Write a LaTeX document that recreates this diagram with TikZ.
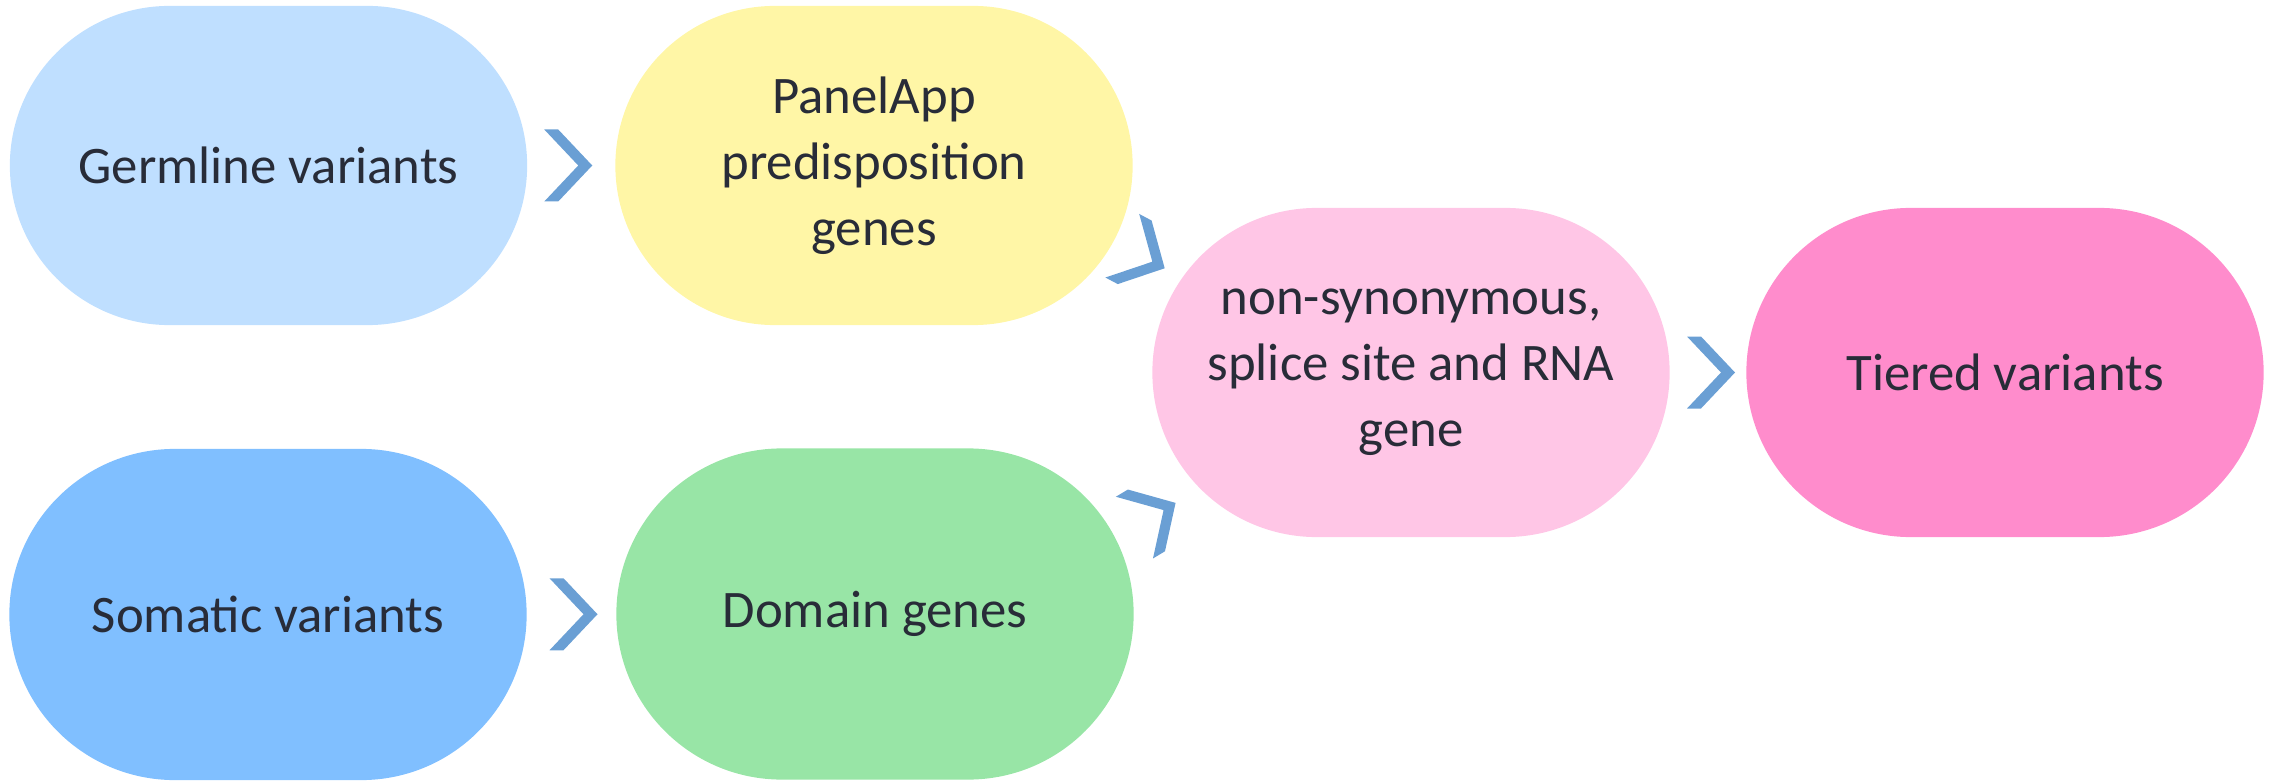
\documentclass[tikz,border=0pt]{standalone}
\usepackage{fontspec}
\setmainfont{Carlito}
\usetikzlibrary{calc}

\definecolor{germfill}{RGB}{191,223,255}
\definecolor{somafill}{RGB}{128,191,255}
\definecolor{panelfill}{RGB}{255,246,166}
\definecolor{domainfill}{RGB}{152,229,166}
\definecolor{nonsynfill}{RGB}{255,198,230}
\definecolor{tierfill}{RGB}{255,140,204}
\definecolor{chevblue}{RGB}{106,159,212}
\definecolor{inktext}{RGB}{40,44,56}

\tikzset{
  stage/.style={draw=none, fill=#1, rectangle, minimum width=5.17cm,
    align=center, text=inktext, inner sep=0pt,
    font=\fontsize{15}{18.8}\selectfont},
  toprow/.style={minimum height=3.19cm, rounded corners=1.595cm},
  lowrow/.style={minimum height=3.31cm, rounded corners=1.655cm},
  midrow/.style={minimum height=3.29cm, rounded corners=1.645cm},
  chev/.pic={\fill[chevblue] (-24,36) -- (-10,36) -- (24,0) -- (-10,-36)
      -- (-24,-36) -- (10,0) -- cycle;}
}

\begin{document}
\begin{tikzpicture}[x=0.01cm, y=-0.01cm]
  \useasboundingbox (0,0) rectangle (2272,782);

  % process stages
  \node[stage=germfill, toprow] (germ) at (268.5,165.5) {Germline variants};
  \node[stage=panelfill, toprow] (panel) at (874,165.5)
    {PanelApp\\predisposition\\genes};
  \node[stage=somafill, lowrow] (soma) at (268,614.5) {Somatic variants};
  \node[stage=domainfill, lowrow] (domain) at (875,614) {Domain genes};
  \node[stage=nonsynfill, midrow] (nonsyn) at (1411,372.5)
    {non-synonymous,\\splice site and RNA\\gene};
  \node[stage=tierfill, midrow] (tier) at (2005,372.5) {Tiered variants};

  % chevron connectors between stages
  \pic at ($(germ)!0.5!(panel)+(-3,0)$) {chev};
  \pic at ($(soma)!0.5!(domain)+(2,0)$) {chev};
  \pic[rotate=-28] at ($(panel)!0.5!(nonsyn)+(1,-12)$) {chev};
  \pic[rotate=31] at ($(domain)!0.5!(nonsyn)+(12,22)$) {chev};
  \pic at ($(nonsyn)!0.5!(tier)+(3,0)$) {chev};
\end{tikzpicture}
\end{document}
